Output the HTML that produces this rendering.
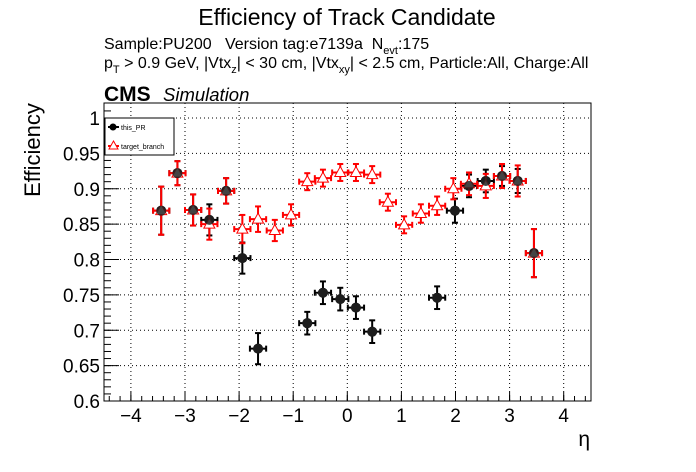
<!DOCTYPE html>
<html><head><meta charset="utf-8"><style>
body{margin:0;background:#fff;}
svg{display:block;font-family:"Liberation Sans",sans-serif;}
</style></head><body>
<svg id="c" width="696" height="472" viewBox="0 0 696 472" xmlns="http://www.w3.org/2000/svg">
<rect width="696" height="472" fill="#fff"/>
<text x="347" y="25" font-size="23" text-anchor="middle">Efficiency of Track Candidate</text>
<text x="104" y="49" font-size="16" xml:space="preserve">Sample:PU200   Version tag:e7139a  N<tspan font-size="11" dy="5">evt</tspan><tspan dy="-5">:175</tspan></text>
<text x="104" y="68" font-size="16">p<tspan font-size="11" dy="5">T</tspan><tspan dy="-5"> &gt; 0.9 GeV, |Vtx</tspan><tspan font-size="11" dy="5">z</tspan><tspan dy="-5">| &lt; 30 cm, |Vtx</tspan><tspan font-size="11" dy="5">xy</tspan><tspan dy="-5">| &lt; 2.5 cm, Particle:All, Charge:All</tspan></text>
<text x="104" y="101" font-size="21" font-weight="bold">CMS</text>
<text x="163" y="101" font-size="18.5" font-style="italic">Simulation</text>
<text x="40" y="150" font-size="22" text-anchor="middle" transform="rotate(-90 40 150)">Efficiency</text>
<text x="590" y="446" font-size="21" text-anchor="end">η</text>
<g id="grid"></g><g id="axes"></g><g id="series"></g>
<rect x="104" y="103" width="487" height="298" fill="none" stroke="#000" stroke-width="1"/>
<g>
<rect x="105" y="118" width="69" height="37" fill="#fff" stroke="#000"/>
<g><line x1="108" y1="127" x2="119" y2="127" stroke="#000" stroke-width="2"/><circle cx="113" cy="127" r="3.5" fill="#000"/><text x="121" y="130" font-size="7">this_PR</text></g>
<g><line x1="108" y1="146" x2="119" y2="146" stroke="red" stroke-width="2"/><path d="M113.5 141 L118 149 L109 149 Z" fill="#fff" stroke="red"/><text x="121" y="149" font-size="7">target_branch</text></g>
</g>
</svg>
<script>
const etaPR=[-3.44,-3.14,-2.85,-2.55,-2.24,-1.94,-1.65,-0.74,-0.45,-0.13,0.16,0.46,1.66,1.99,2.25,2.56,2.86,3.15,3.45];
const effPR=[0.869,0.922,0.870,0.856,0.897,0.802,0.674,0.710,0.753,0.744,0.732,0.698,0.746,0.869,0.904,0.911,0.918,0.911,0.809];
const errPR=[0.034,0.017,0.022,0.022,0.018,0.022,0.022,0.016,0.016,0.016,0.016,0.016,0.016,0.017,0.016,0.016,0.014,0.017,0.034];
const etaTB=[-3.44,-3.14,-2.85,-2.55,-2.24,-1.94,-1.65,-1.34,-1.04,-0.74,-0.45,-0.13,0.16,0.46,0.75,1.05,1.36,1.66,1.96,2.25,2.56,2.86,3.15,3.45];
const effTB=[0.869,0.922,0.870,0.850,0.897,0.843,0.857,0.841,0.863,0.910,0.915,0.923,0.923,0.920,0.881,0.849,0.865,0.876,0.900,0.907,0.904,0.918,0.911,0.809];
const errTB=[0.034,0.017,0.022,0.022,0.018,0.020,0.018,0.015,0.015,0.012,0.012,0.012,0.012,0.012,0.012,0.012,0.013,0.013,0.015,0.016,0.017,0.017,0.022,0.034];
const xTicks=[-4,-3,-2,-1,0,1,2,3,4];
const yTicks=[0.6,0.65,0.7,0.75,0.8,0.85,0.9,0.95,1];
const yTickLabels=["0.6","0.65","0.7","0.75","0.8","0.85","0.9","0.95","1"];
const halfBin=0.15;
const X=v=>347.3+v*54.1;
const Y=v=>401-(v-0.6)*707.5;
const NS="http://www.w3.org/2000/svg";
function mk(tag,attrs,parent){const e=document.createElementNS(NS,tag);for(const k in attrs)e.setAttribute(k,attrs[k]);parent.appendChild(e);return e;}
const grid=document.getElementById('grid'),axes=document.getElementById('axes'),ser=document.getElementById('series');
xTicks.forEach(t=>{
  const g=mk('line',{x1:X(t),x2:X(t),y1:103,y2:401,stroke:'#000','stroke-dasharray':'1,3','stroke-width':1},grid);
  
  
  mk('line',{x1:X(t),x2:X(t),y1:401,y2:392,stroke:'#000'},axes);
  const l=mk('text',{x:X(t),y:422,'font-size':19,'text-anchor':'middle'},axes);
  l.textContent=t<0?'\u2212'+(-t):String(t);
  
  
});
for(let v=-4.4;v<=4.45;v+=0.2){mk('line',{x1:X(v),x2:X(v),y1:401,y2:396,stroke:'#000'},axes);}
yTicks.forEach((t,i)=>{
  const g=mk('line',{x1:104,x2:591,y1:Y(t),y2:Y(t),stroke:'#000','stroke-dasharray':'1,3','stroke-width':1},grid);
  
  
  mk('line',{x1:104,x2:119,y1:Y(t),y2:Y(t),stroke:'#000'},axes);
  const l=mk('text',{x:100,y:Y(t)+7,'font-size':19,'text-anchor':'end'},axes);
  l.textContent=yTickLabels[i];
  
  
});
for(let v=0.6;v<=1.02;v+=0.01){mk('line',{x1:104,x2:111,y1:Y(v),y2:Y(v),stroke:'#000'},axes);}
function drawBars(x,y,e,color,g){
  const s={stroke:color,'stroke-width':2};
  mk('line',Object.assign({x1:X(x-halfBin),x2:X(x+halfBin),y1:Y(y),y2:Y(y)},s),g);
  mk('line',Object.assign({x1:X(x),x2:X(x),y1:Y(y-e),y2:Y(y+e)},s),g);
  [x-halfBin,x+halfBin].forEach(xx=>mk('line',Object.assign({x1:X(xx),x2:X(xx),y1:Y(y)-3,y2:Y(y)+3},s),g));
  [y-e,y+e].forEach(yy=>mk('line',Object.assign({x1:X(x)-3,x2:X(x)+3,y1:Y(yy),y2:Y(yy)},s),g));
}
etaPR.forEach((x,i)=>{
  const g=mk('g',{},ser);
  
  
  drawBars(x,effPR[i],errPR[i],'#000',g);
  mk('circle',{cx:X(x),cy:Y(effPR[i]),r:5,fill:'#000'},g);
});
etaTB.forEach((x,i)=>{
  const g=mk('g',{},ser);
  
  
  drawBars(x,effTB[i],errTB[i],'red',g);
  const cx=X(x),cy=Y(effTB[i]);
  mk('path',{d:`M${cx} ${cy-6} L${cx+5.5} ${cy+4} L${cx-5.5} ${cy+4} Z`,fill:'#fff',stroke:'red','stroke-width':1},g);
});
etaPR.forEach((x,i)=>{
  const c=mk('circle',{cx:X(x),cy:Y(effPR[i]),r:5,fill:'#222','fill-opacity':0.85},ser);
  
  
});
</script>
</body></html>
